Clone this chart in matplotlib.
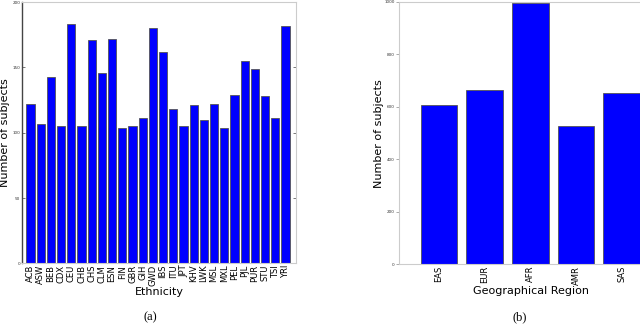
import numpy as np
import matplotlib
matplotlib.use('Agg')
import matplotlib.pyplot as plt

# --- datos ---
etnias = ['ACB', 'ASW', 'BEB', 'CDX', 'CEU', 'CHB', 'CHS', 'CLM', 'ESN', 'FIN',
          'GBR', 'GIH', 'GWD', 'IBS', 'ITU', 'JPT', 'KHV', 'LWK', 'MSL', 'MXL',
          'PEL', 'PJL', 'PUR', 'STU', 'TSI', 'YRI']
sujetos_etnia = [122, 107, 143, 105, 183, 105, 171, 146, 172, 104,
                 105, 111, 180, 162, 118, 105, 121, 110, 122, 104,
                 129, 155, 149, 128, 111, 182]

regiones = ['EAS', 'EUR', 'AFR', 'AMR', 'SAS']
sujetos_region = [606, 665, 995, 527, 654]

azul = '#0000ff'
borde = '#555555'
gris = '#cccccc'

fig = plt.figure(figsize=(6.4, 3.24), dpi=100)

# --- (a) por etnia ---
ax1 = fig.add_axes([0.034, 0.187, 0.4286, 0.8065])
x1 = np.arange(len(etnias))
ax1.bar(x1, sujetos_etnia, width=0.8, color=azul, edgecolor=borde, linewidth=0.6)
ax1.set_xlim(-0.86, 26.04)
ax1.set_ylim(0, 200)
ax1.set_yticks([0, 50, 100, 150, 200])
ax1.set_xticks(x1)
ax1.set_xticklabels(etnias, rotation=90, fontsize=6)
ax1.tick_params(axis='y', labelsize=3, length=2, width=0.5, direction='in',
                right=True, pad=1, color='#444444', labelcolor='#333333')
ax1.tick_params(axis='x', length=0, pad=1)
for lado in ['top', 'right', 'bottom']:
    ax1.spines[lado].set_color(gris)
    ax1.spines[lado].set_linewidth(0.8)
ax1.spines['left'].set_color('#444444')
ax1.spines['left'].set_linewidth(1.0)
ax1.set_xlabel('Ethnicity', fontsize=8, labelpad=1)
ax1.set_ylabel('Number of subjects', fontsize=8)
ax1.yaxis.set_label_coords(-0.044, 0.5)

# --- (b) por region geografica ---
ax2 = fig.add_axes([0.623, 0.184, 0.414, 0.81])
x2 = np.arange(len(regiones))
ax2.bar(x2, sujetos_region, width=0.8, color=azul, edgecolor=borde, linewidth=0.6)
ax2.set_xlim(-0.88, 4.92)
ax2.set_ylim(0, 1000)
ax2.set_yticks([0, 200, 400, 600, 800, 1000])
ax2.set_xticks(x2)
ax2.set_xticklabels(regiones, rotation=90, fontsize=6)
ax2.tick_params(axis='y', labelsize=3, length=2, width=0.5, pad=1,
                color='#888888', labelcolor='#333333')
ax2.tick_params(axis='x', length=0, pad=1)
for lado in ['top', 'right', 'bottom', 'left']:
    ax2.spines[lado].set_color(gris)
    ax2.spines[lado].set_linewidth(0.8)
ax2.set_xlabel('Geographical Region', fontsize=8, labelpad=1)
ax2.set_ylabel('Number of subjects', fontsize=8)
ax2.yaxis.set_label_coords(-0.057, 0.5)

# --- leyendas (a) y (b) ---
fig.text(150 / 640, 1 - 317 / 324, '(a)', ha='center', va='center',
         fontsize=9, family='Liberation Serif')
fig.text(520 / 640, 1 - 317 / 324, '(b)', ha='center', va='center',
         fontsize=9, family='Liberation Serif')

fig.savefig('out.png', dpi=100)
